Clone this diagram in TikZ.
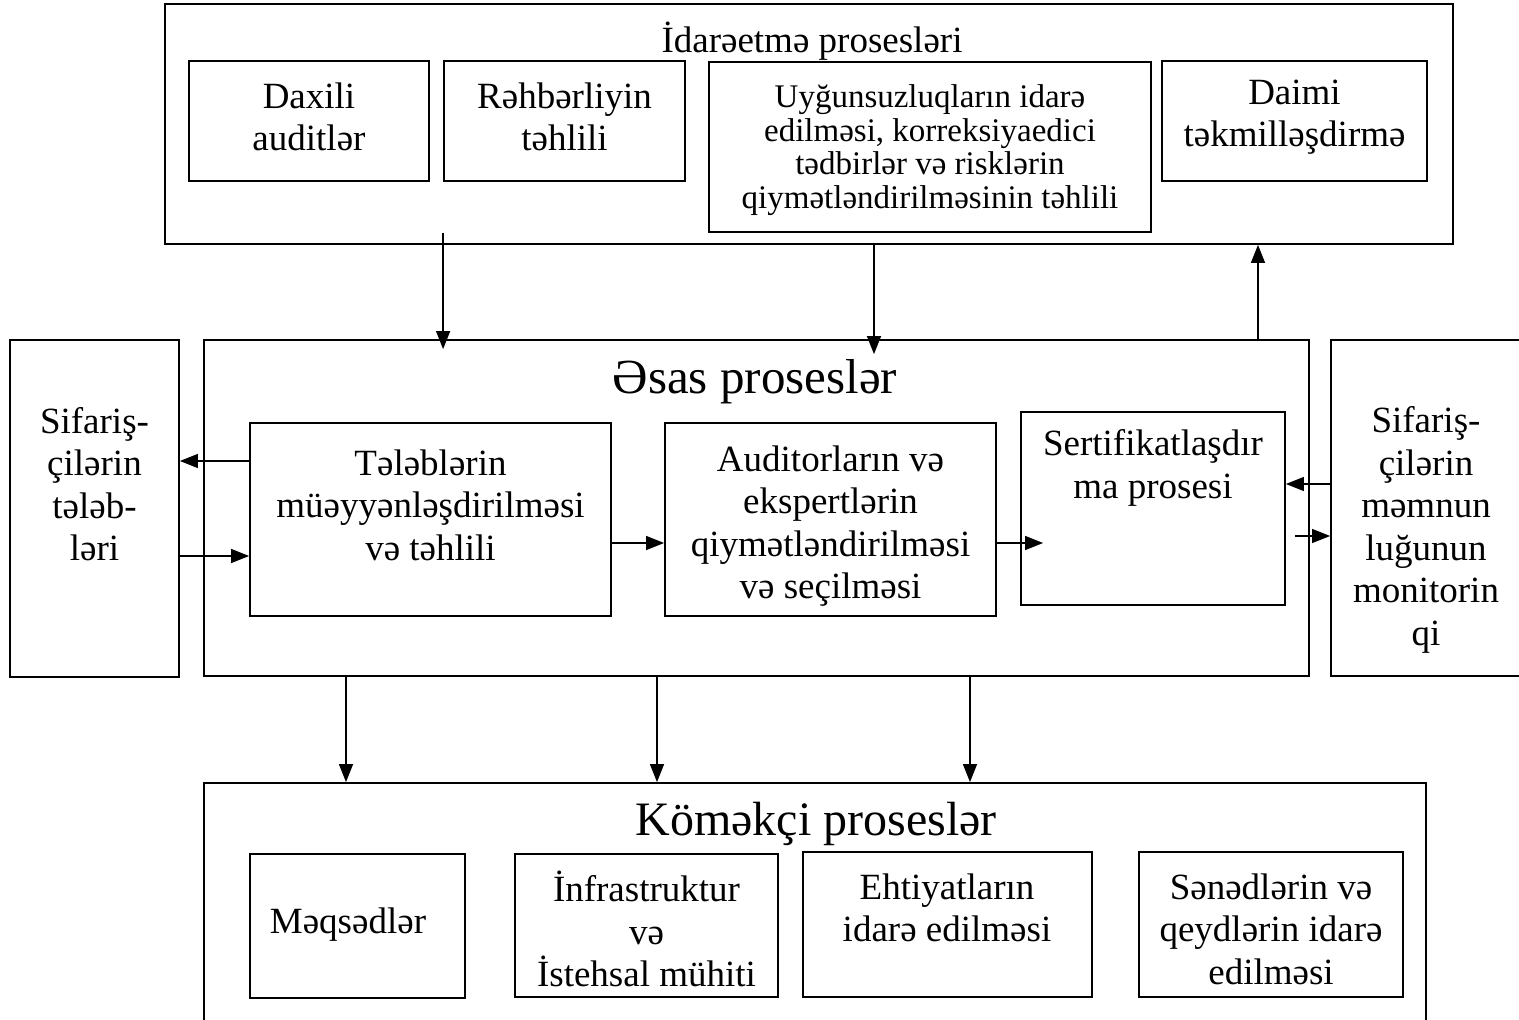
\documentclass[tikz,border=0pt]{standalone}
\usepackage{fontspec}
\setmainfont{Liberation Serif}
\usetikzlibrary{arrows.meta,calc}
\tikzset{
  box/.style={draw,line width=1.8pt,inner sep=0pt},
  txt/.style={align=center,inner sep=0pt,font=\fontsize{37}{42.5}\selectfont},
  small txt/.style={txt,font=\fontsize{33}{33.5}\selectfont},
  title/.style={inner sep=0pt,font=\fontsize{49}{55}\selectfont},
  arr/.style={line width=1.4pt,-{Triangle[length=18pt,width=14pt]}}
}
\begin{document}
\begin{tikzpicture}[x=1pt,y=-1pt]
\path[use as bounding box,clip] (0,0) rectangle (1519,1020);

% idareetme
\node[box,minimum width=1288pt,minimum height=240pt] (idr) at (809,124) {};
\node[txt] (idrT) at (812,41) {İdarəetmə prosesləri};
\node[box,minimum width=240pt,minimum height=120pt] (dax) at (309,121) {};
\node[box,minimum width=241pt,minimum height=120pt] (rhb) at (564.5,121) {};
\node[box,minimum width=442pt,minimum height=170pt] (uyg) at (930,147) {};
\node[box,minimum width=265pt,minimum height=120pt] (daimi) at (1294.5,121) {};
\node[txt] (daxT) at (309,117) {Daxili\\auditlər};
\node[txt] (rhbT) at (564.5,117) {Rəhbərliyin\\təhlili};
\node[small txt] (uygT) at (930,150) {Uyğunsuzluqların idarə\\edilməsi, korreksiyaedici\\tədbirlər və risklərin\\qiymətləndirilməsinin təhlili};
\node[txt] (daimiT) at (1294.5,117) {Daimi\\təkmilləşdirmə};

% esas
\node[box,minimum width=169pt,minimum height=337pt] (sif) at (94.5,508.5) {};
\node[box,minimum width=1105pt,minimum height=336pt] (esas) at (756.5,508) {};
\node[box,minimum width=192pt,minimum height=336pt] (mon) at (1427,508) {};
\node[box,minimum width=361pt,minimum height=193pt] (tel) at (430.5,519.5) {};
\node[box,minimum width=331pt,minimum height=193pt] (aud) at (830.5,519.5) {};
\node[box,minimum width=264pt,minimum height=193pt] (sert) at (1153,508.5) {};
\node[txt] (sifT) at (94.5,484) {Sifariş-\\çilərin\\tələb-\\ləri};
\node[title] (esasT) at (755,382) {Əsas proseslər};
\node[txt] (telT) at (430.5,505) {Tələblərin\\müəyyənləşdirilməsi\\və təhlili};
\node[txt] (audT) at (830.5,526) {Auditorların və\\ekspertlərin\\qiymətləndirilməsi\\və seçilməsi};
\node[txt] (sertT) at (1153,468) {Sertifikatlaşdır\\ma prosesi};
\node[txt] (monT) at (1426,530) {Sifariş-\\çilərin\\məmnun\\luğunun\\monitorin\\qi};

% komekci
\node[box,minimum width=1222pt,minimum height=257pt] (kom) at (815,911.5) {};
\node[title,font=\fontsize{48}{54}\selectfont] (komT) at (816,824) {Köməkçi proseslər};
\node[box,minimum width=215pt,minimum height=144pt] (meq) at (357.5,926) {};
\node[box,minimum width=263pt,minimum height=143pt] (inf) at (646.5,925.5) {};
\node[box,minimum width=289pt,minimum height=145pt] (eht) at (947.5,924.5) {};
\node[box,minimum width=264pt,minimum height=145pt] (sen) at (1271,924.5) {};
\node[txt] (meqT) at (348,925) {Məqsədlər};
\node[txt] (infT) at (646.5,929) {İnfrastruktur\\və\\İstehsal mühiti};
\node[txt] (ehtT) at (947,908) {Ehtiyatların\\idarə edilməsi};
\node[txt] (senT) at (1271,929) {Sənədlərin və\\qeydlərin idarə\\edilməsi};

% arrows
\draw[arr] (rhb.west |- uyg.south) -- ($(esas.north -| rhb.west)+(0,10)$);
\draw[arr] (idr.south -| 874,0) -- ($(esas.north -| 874,0)+(0,15)$);
\draw[arr] (esas.north -| 1258,0) -- (idr.south -| 1258,0);
\draw[arr] (tel.west |- 0,461) -- (sif.east |- 0,461);
\draw[arr] (sif.east |- 0,556) -- (tel.west |- 0,556);
\draw[arr] (tel.east |- 0,543) -- (aud.west |- 0,543);
\draw[arr] (aud.east |- 0,543) -- ($(sert.west |- 0,543)+(23,0)$);
\draw[arr] (mon.west |- 0,484) -- (sert.east |- 0,484);
\draw[arr] ($(sert.east |- 0,536)+(9,0)$) -- (mon.west |- 0,536);
\foreach \x in {346,657,970}
  \draw[arr] (esas.south -| \x,0) -- (kom.north -| \x,0);
\end{tikzpicture}
\end{document}
